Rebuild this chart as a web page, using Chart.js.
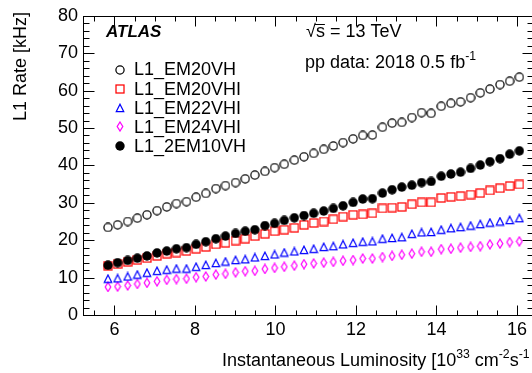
<!DOCTYPE html>
<html>
<head>
<meta charset="utf-8">
<title>L1 rates</title>
<script src="https://cdn.jsdelivr.net/npm/chart.js@4.4.1/dist/chart.umd.min.js"></script>
<style>
  html, body { margin: 0; padding: 0; background: #fff; overflow: hidden; }
  #wrap { width: 532px; height: 373px; overflow: hidden; }
</style>
</head>
<body>
<div id="wrap"><canvas id="rateChart" width="540" height="373"></canvas></div>
<script>
// instantaneous luminosity bins [10^33 cm^-2 s^-1]
var lumi = [5.84, 6.08, 6.33, 6.57, 6.81, 7.06, 7.30, 7.54, 7.79, 8.03,
            8.27, 8.52, 8.76, 9.01, 9.25, 9.49, 9.74, 9.98, 10.22, 10.47,
            10.71, 10.95, 11.20, 11.44, 11.68, 11.93, 12.17, 12.41, 12.66, 12.90,
            13.14, 13.39, 13.63, 13.87, 14.12, 14.36, 14.60, 14.85, 15.09, 15.33,
            15.58, 15.82, 16.06];

// L1 rates [kHz]
var em20vh = [23.4, 24.1, 25.0, 25.9, 26.8, 27.9, 28.9, 29.8, 30.3, 31.5,
              32.5, 33.8, 34.6, 35.4, 36.4, 37.4, 38.4, 39.4, 40.3, 41.4,
              42.3, 43.2, 44.3, 45.2, 46.1, 47.1, 48.0, 48.1, 50.2, 51.3,
              51.5, 52.8, 54.1, 53.9, 55.8, 56.6, 57.0, 58.1, 59.4, 60.4,
              61.6, 62.5, 63.6];
var em20vhi = [13.2, 13.6, 14.2, 14.7, 15.2, 15.8, 16.4, 16.7, 17.1, 17.7,
               18.2, 18.9, 19.3, 19.9, 20.4, 21.1, 21.7, 22.4, 22.8, 23.3,
               24.1, 24.6, 25.0, 25.6, 26.3, 26.8, 26.9, 27.2, 28.5, 28.7,
               28.9, 29.6, 30.1, 30.1, 31.3, 31.6, 31.8, 32.2, 32.6, 33.3,
               33.9, 34.5, 34.9];
var em22vhi = [9.7, 9.8, 10.3, 10.8, 11.3, 11.8, 12.1, 12.4, 12.4, 12.9,
               13.4, 13.9, 14.3, 14.7, 14.9, 15.4, 15.8, 16.2, 16.7, 17.0,
               17.4, 17.7, 18.2, 18.4, 18.9, 19.3, 19.6, 19.7, 20.4, 20.6,
               20.8, 21.7, 22.1, 22.2, 22.8, 23.2, 23.5, 23.9, 24.3, 24.7,
               25.0, 25.4, 25.9];
var em24vhi = [7.5, 7.6, 7.9, 8.3, 8.6, 9.0, 9.4, 9.6, 9.7, 10.1,
               10.3, 10.8, 11.0, 11.4, 11.7, 11.8, 12.3, 12.6, 12.9, 13.2,
               13.6, 13.8, 14.0, 14.2, 14.5, 14.7, 15.1, 15.1, 15.5, 15.8,
               16.1, 16.4, 16.9, 16.9, 17.6, 17.7, 18.0, 18.2, 18.4, 18.9,
               19.1, 19.5, 19.7];
var twoEm10vh = [13.3, 14.0, 14.6, 15.2, 15.8, 16.6, 17.1, 17.7, 18.0, 18.9,
                 19.6, 20.4, 21.1, 21.8, 22.4, 22.8, 23.9, 24.5, 25.3, 26.0,
                 26.6, 27.2, 27.8, 28.5, 29.2, 30.1, 31.0, 31.1, 32.6, 33.5,
                 34.2, 34.7, 35.4, 35.7, 37.1, 37.7, 38.2, 39.2, 40.1, 41.0,
                 41.8, 43.0, 43.9];

var seriesNames = ['L1_EM20VH', 'L1_EM20VHI', 'L1_EM22VHI', 'L1_EM24VHI', 'L1_2EM10VH'];
var xTickValues = [6, 8, 10, 12, 14, 16];
var yTickValues = [0, 10, 20, 30, 40, 50, 60, 70, 80];

var FONT = '"Liberation Sans", Arial, Helvetica, sans-serif';

// ROOT-like marker images
function makeMarker(w, h, draw) {
    var c = document.createElement('canvas');
    c.width = w;
    c.height = h;
    var g = c.getContext('2d');
    g.lineWidth = 1.25;
    draw(g);
    return c;
}
var mkCircle = makeMarker(10, 10, function (g) {
    g.strokeStyle = '#000';
    g.beginPath(); g.arc(5, 5, 4.1, 0, 2 * Math.PI); g.stroke();
});
var mkSquare = makeMarker(10, 10, function (g) {
    g.strokeStyle = '#ff0000';
    g.strokeRect(1, 1, 8, 8);
});
var mkTriangle = makeMarker(10, 10, function (g) {
    g.strokeStyle = '#0000ff';
    g.beginPath(); g.moveTo(5, 1.2); g.lineTo(8.7, 8.5); g.lineTo(1.3, 8.5); g.closePath(); g.stroke();
});
var mkDiamond = makeMarker(8, 11, function (g) {
    g.strokeStyle = '#ff00ff';
    g.beginPath(); g.moveTo(4, 1); g.lineTo(6.8, 5.5); g.lineTo(4, 10); g.lineTo(1.2, 5.5); g.closePath(); g.stroke();
});
var mkDot = makeMarker(10, 10, function (g) {
    g.fillStyle = '#000';
    g.beginPath(); g.arc(5, 5, 4.7, 0, 2 * Math.PI); g.fill();
});
var markers = [mkCircle, mkSquare, mkTriangle, mkDiamond, mkDot];

function toPoints(values) {
    return values.map(function (v, i) { return { x: lumi[i], y: v }; });
}

function makeDataset(idx, values, order) {
    return {
        label: seriesNames[idx],
        data: toPoints(values),
        pointStyle: markers[idx],
        pointRadius: 5,
        showLine: false,
        order: order
    };
}

// draws text pieces, some as superscripts
function drawRich(ctx, parts, x, y, size) {
    parts.forEach(function (p) {
        var fs = p.sup ? size * 0.68 : size;
        ctx.font = fs + 'px ' + FONT;
        ctx.fillText(p.t, x, p.sup ? y - size * 0.45 : y);
        x += ctx.measureText(p.t).width;
    });
}

var atlasDecor = {
    id: 'atlasDecor',
    beforeDatasetsDraw: function (chart) {
        var ctx = chart.ctx, a = chart.chartArea;
        var xs = chart.scales.x, ys = chart.scales.y;
        ctx.save();
        ctx.strokeStyle = '#000';
        ctx.lineWidth = 1;
        var L = Math.round(a.left) + 0.5, R = Math.round(a.right) + 0.5;
        var T = Math.round(a.top) + 0.5, B = Math.round(a.bottom) + 0.5;
        ctx.strokeRect(L, T, R - L, B - T);
        ctx.beginPath();
        // x ticks every 0.5, major every 2
        for (var k = 11; k <= 32; k++) {
            var px = Math.round(xs.getPixelForValue(k / 2)) + 0.5;
            var len = (k % 4 === 0) ? 10 : 5;
            ctx.moveTo(px, B); ctx.lineTo(px, B - len);
            ctx.moveTo(px, T); ctx.lineTo(px, T + len);
        }
        // y ticks every 2, major every 10
        for (var v = 0; v <= 80; v += 2) {
            var py = Math.round(ys.getPixelForValue(v)) + 0.5;
            var ylen = (v % 10 === 0) ? 11 : 6;
            ctx.moveTo(L, py); ctx.lineTo(L + ylen, py);
            ctx.moveTo(R, py); ctx.lineTo(R - ylen, py);
        }
        ctx.stroke();
        ctx.restore();
    },
    afterDatasetsDraw: function (chart) {
        var ctx = chart.ctx;
        ctx.save();
        ctx.fillStyle = '#000';
        ctx.textBaseline = 'alphabetic';

        // axis titles
        drawRich(ctx, [
            { t: 'Instantaneous Luminosity [10' },
            { t: '33', sup: true },
            { t: ' cm' },
            { t: '-2', sup: true },
            { t: 's' },
            { t: '-1', sup: true },
            { t: ' ]' }
        ], 222, 366, 18);

        ctx.save();
        ctx.translate(26, 12);
        ctx.rotate(-Math.PI / 2);
        ctx.textAlign = 'right';
        ctx.font = '18px ' + FONT;
        ctx.fillText('L1 Rate [kHz]', 0, 0);
        ctx.restore();

        // labels
        ctx.font = 'italic bold 17px ' + FONT;
        ctx.fillText('ATLAS', 106, 37);

        ctx.font = '18px ' + FONT;
        ctx.fillText('\u221As = 13 TeV', 306, 37);
        var w1 = ctx.measureText('\u221A').width;
        var w2 = ctx.measureText('\u221As').width;
        ctx.fillRect(306 + w1 - 1, 24, w2 - w1 + 1, 1);

        drawRich(ctx, [
            { t: 'pp data: 2018 0.5 fb' },
            { t: '-1', sup: true }
        ], 305, 68, 18);

        // legend
        var legendY = 69.5, legendStep = 19.1;
        ctx.font = '18px ' + FONT;
        ctx.textBaseline = 'middle';
        seriesNames.forEach(function (name, i) {
            var y = legendY + i * legendStep;
            var m = markers[i];
            ctx.drawImage(m, Math.round(120 - m.width / 2), Math.round(y - m.height / 2));
            ctx.fillText(name, 134, y + 1);
        });
        ctx.restore();
    }
};

var ctx = document.getElementById('rateChart').getContext('2d');
var rateChart = new Chart(ctx, {
    type: 'scatter',
    data: {
        datasets: [
            makeDataset(0, em20vh, 1),
            makeDataset(1, em20vhi, 2),
            makeDataset(2, em22vhi, 3),
            makeDataset(3, em24vhi, 4),
            makeDataset(4, twoEm10vh, 0)
        ]
    },
    options: {
        responsive: false,
        animation: false,
        devicePixelRatio: 1,
        events: [],
        layout: { padding: { top: 11, right: 7, bottom: 0, left: 0 } },
        plugins: {
            legend: { display: false },
            tooltip: { enabled: false }
        },
        scales: {
            x: {
                type: 'linear',
                min: 5.22,
                max: 16.4,
                grid: { display: false, drawTicks: false },
                border: { display: false },
                ticks: {
                    color: '#000',
                    font: { family: FONT, size: 18 },
                    padding: 4,
                    maxRotation: 0
                },
                afterBuildTicks: function (s) {
                    s.ticks = xTickValues.map(function (v) { return { value: v }; });
                },
                afterFit: function (s) { s.height = 58; }
            },
            y: {
                type: 'linear',
                min: 0,
                max: 80,
                grid: { display: false, drawTicks: false },
                border: { display: false },
                ticks: {
                    color: '#000',
                    font: { family: FONT, size: 18 },
                    padding: 5
                },
                afterBuildTicks: function (s) {
                    s.ticks = yTickValues.map(function (v) { return { value: v }; });
                },
                afterFit: function (s) { s.width = 83; }
            }
        }
    },
    plugins: [atlasDecor]
});
</script>
</body>
</html>
